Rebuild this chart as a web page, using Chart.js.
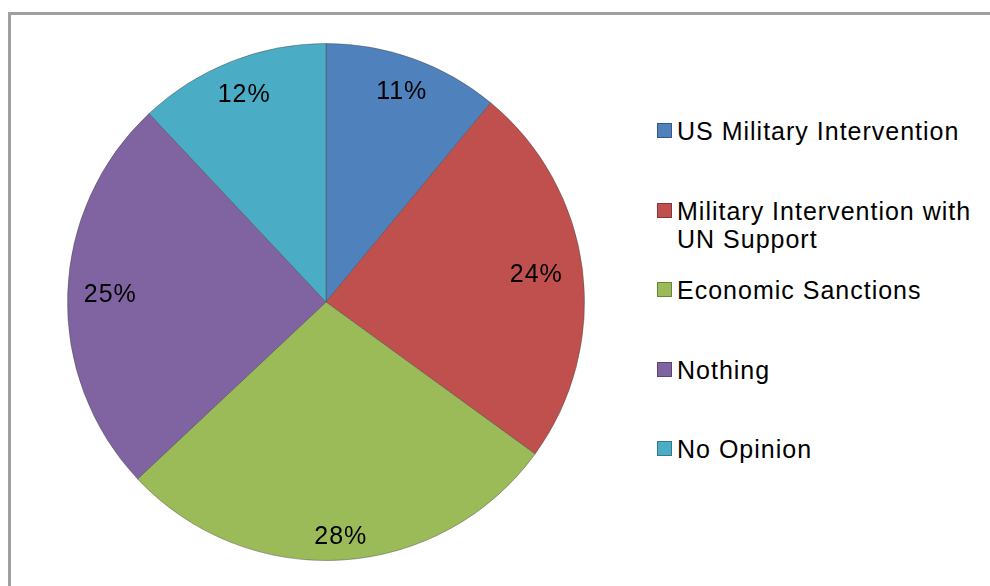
<!DOCTYPE html>
<html>
<head>
<meta charset="utf-8">
<script src="https://cdn.jsdelivr.net/npm/chart.js@4.4.0/dist/chart.umd.min.js"></script>
<style>
  html, body { margin: 0; padding: 0; background: #fff; }
  body { width: 990px; height: 586px; position: relative; overflow: hidden; font-family: "Liberation Sans", Arial, sans-serif; }
  #frame { position: absolute; left: 8px; top: 12px; width: 1000px; height: 600px; border: 3px solid #a0a0a0; box-sizing: border-box; }
  #wrap { position: absolute; left: 62px; top: 38px; width: 528px; height: 528px; }
  #legend { position: absolute; left: 0; top: 0; }
  .item { position: absolute; left: 657px; width: 330px; font-size: 25px; letter-spacing: 1px; line-height: 28px; color: #000; }
  .box { position: absolute; left: 0; top: 6px; width: 13px; height: 13px; border: 1px solid rgba(0,0,0,0.3); }
  .txt { position: absolute; left: 20px; top: 0; white-space: nowrap; }
</style>
</head>
<body>
<div id="frame"></div>
<div id="wrap"><canvas id="pie" width="528" height="528"></canvas></div>
<div id="legend"></div>
<script>
// categories and values
const categories = [
    ['US Military Intervention'],
    ['Military Intervention with', 'UN Support'],
    ['Economic Sanctions'],
    ['Nothing'],
    ['No Opinion']
];
const shares = [11, 24, 28, 25, 12];
const colors = ['#4f81bd', '#c0504d', '#9bbb59', '#8064a2', '#4bacc6'];

// where the percent labels sit (fraction of radius)
const labelRadius = [0.865, 0.82, 0.91, 0.835, 0.86];

const percentLabels = {
    id: 'percentLabels',
    afterDatasetsDraw(chart) {
        const ctx = chart.ctx;
        const meta = chart.getDatasetMeta(0);
        ctx.save();
        ctx.font = '25px "Liberation Sans", Arial, sans-serif';
        ctx.letterSpacing = '1px';
        ctx.fillStyle = '#000';
        ctx.textAlign = 'center';
        ctx.textBaseline = 'middle';
        meta.data.forEach((arc, i) => {
            const p = arc.getProps(['x', 'y', 'startAngle', 'endAngle', 'outerRadius'], true);
            const a = (p.startAngle + p.endAngle) / 2;
            const r = p.outerRadius * labelRadius[i];
            ctx.fillText(shares[i] + '%', p.x + Math.cos(a) * r, p.y + Math.sin(a) * r);
        });
        ctx.restore();
    }
};

const chart = new Chart(document.getElementById('pie').getContext('2d'), {
    type: 'pie',
    data: {
        labels: categories.map(c => c.join(' ')),
        datasets: [{
            data: shares,
            backgroundColor: colors,
            borderColor: 'rgba(70,70,70,0.45)',
            borderWidth: 1
        }]
    },
    options: {
        responsive: false,
        animation: false,
        events: [],
        layout: { padding: 5 },
        plugins: {
            legend: { display: false },
            tooltip: { enabled: false }
        }
    },
    plugins: [percentLabels]
});

// legend on the right
const legend = document.getElementById('legend');
categories.forEach((lines, i) => {
    const item = document.createElement('div');
    item.className = 'item';
    item.style.top = (117 + i * 79.5) + 'px';
    const box = document.createElement('div');
    box.className = 'box';
    box.style.background = colors[i];
    const txt = document.createElement('div');
    txt.className = 'txt';
    txt.innerHTML = lines.join('<br>');
    item.appendChild(box);
    item.appendChild(txt);
    legend.appendChild(item);
});
</script>
</body>
</html>
